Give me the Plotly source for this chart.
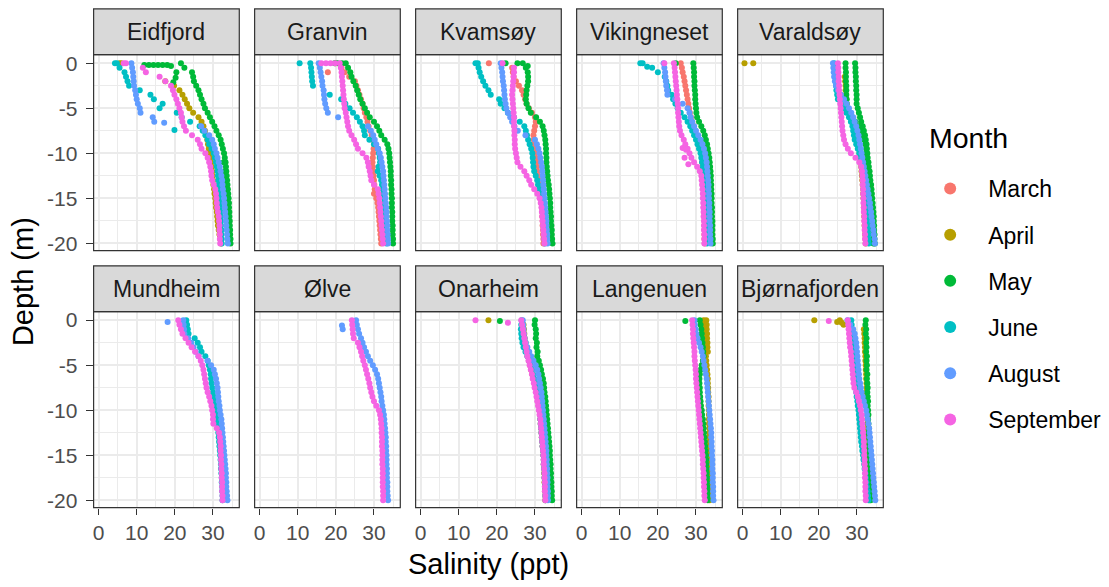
import plotly.graph_objects as go

# ---------------------------------------------------------------- categories
MONTHS = ["March", "April", "May", "June", "August", "September"]
MONTH_COLOURS = ["#F8766D", "#B79F00", "#00BA38", "#00BFC4", "#619CFF", "#F564E3"]
STATIONS = ["Eidfjord", "Granvin", "Kvamsøy", "Vikingneset", "Varaldsøy",
            "Mundheim", "Ølve", "Onarheim", "Langenuen", "Bjørnafjorden"]

X_TICKS = [0, 10, 20, 30]
X_MINOR = [5, 15, 25, 35]
Y_TICKS = [0, -5, -10, -15, -20]
Y_TICK_TEXT = ["0", "-5", "-10", "-15", "-20"]
Y_MINOR = [-2.5, -7.5, -12.5, -17.5]

# CTD sampling depths (m) shared by every cast
DEPTH = [0.0, -0.5, -1.0, -1.5, -2.0, -2.5, -3.0, -3.5, -4.0, -4.5,
         -5.0, -5.5, -6.0, -6.5, -7.0, -7.5, -8.0, -8.5, -9.0, -9.5,
         -10.0, -10.5, -11.0, -11.5, -12.0, -12.5, -13.0, -13.5, -14.0, -14.5,
         -15.0, -15.5, -16.0, -16.5, -17.0, -17.5, -18.0, -18.5, -19.0, -19.5,
         -20.0]

# ---------------------------------------------------------------- salinity casts (ppt at DEPTH)
EIDFJORD_APR = [5.5, None, None, None, 17.5, 19.8, 21.2, 22.0, 22.6, 23.2,
                23.8, 24.8, 26.2, 27.0, 27.5, 27.9, 28.2, 28.5, 28.7, 28.9,
                29.1, 29.3, 29.5, 29.7, 29.8, 29.9, 30.0, 30.1, 30.3, 30.4,
                30.6, 30.7, 30.8, 31.0, 31.1, 31.2, 31.3, 31.5, 31.7, 31.9,
                32.1]
EIDFJORD_MAY = [21.6, 22.5, 24.5, 24.8, 25.0, 25.6, 26.2, 26.6, 27.0, 27.5,
                27.9, 28.6, 29.2, 29.8, 30.4, 30.9, 31.5, 32.0, 32.3, 32.6,
                32.9, 33.1, 33.3, 33.4, 33.5, 33.6, 33.7, 33.8, 33.9, 34.0,
                34.1, 34.2, 34.2, 34.3, 34.3, 34.4, 34.4, 34.5, 34.5, 34.6,
                34.6]
EIDFJORD_JUN = [4.8, 5.5, 6.8, 7.2, 7.6, 8.0, 10.8, 13.6, 14.5, 16.8,
                16.0, 20.5, 21.8, 24.0, 26.5, 27.3, 28.0, 28.6, 29.0, 29.6,
                30.2, 30.5, 30.8, 31.0, 31.2, 31.3, 31.4, 31.5, 31.6, 31.7,
                31.8, 31.9, 31.9, 32.0, 32.0, 32.1, 32.1, 32.2, 32.2, 32.3,
                32.3]
EIDFJORD_AUG = [8.6, 8.8, 9.0, 9.1, 9.2, 9.3, 9.6, 9.8, 10.0, 10.3,
                10.8, 11.0, 14.2, 14.6, 26.9, 27.8, 29.0, 29.8, 30.2, 30.5,
                30.9, 31.2, 31.5, 31.8, 32.0, 32.2, 32.4, 32.5, 32.6, 32.8,
                32.9, 33.0, 33.1, 33.2, 33.3, 33.4, 33.5, 33.6, 33.7, 33.8,
                33.9]
EIDFJORD_SEP = [7.2, 11.6, 12.4, 16.0, 17.5, 19.0, 19.5, 19.9, 20.4, 20.8,
                21.2, 21.6, 21.8, 22.0, 22.4, 22.9, 24.5, 26.0, 26.6, 27.0,
                28.0, 28.6, 29.0, 29.3, 29.5, 29.6, 29.8, 30.2, 30.6, 30.8,
                30.9, 31.0, 31.1, 31.3, 31.5, 31.6, 31.7, 31.7, 31.8, 31.8,
                31.9]

GRANVIN_MAR = [20.0, 21.5, 22.3, 23.5, 25.0, 25.4, 25.8, 26.2, 26.6, 27.0,
               27.3, 27.6, 28.0, 28.3, 28.6, 29.0, 29.4, 29.8, 30.0, 29.9,
               29.8, 29.7, 29.6, 29.7, 29.8, 29.9, 30.0, 30.1, 30.2, 30.0,
               30.6, 30.9, 31.1, 31.2, 31.3, 31.4, 31.5, 31.6, 31.7, 31.8,
               31.9]
GRANVIN_MAY = [20.5, 23.2, 23.8, 24.1, 24.6, 25.2, 25.6, 26.0, 26.4, 27.0,
               27.6, 28.2, 28.9, 30.0, 30.8, 31.4, 31.9, 32.8, 33.5, 33.8,
               34.0, 34.1, 34.2, 34.3, 34.4, 34.4, 34.5, 34.5, 34.6, 34.6,
               34.7, 34.7, 34.7, 34.8, 34.8, 34.8, 34.9, 34.9, 34.9, 35.0,
               35.0]
GRANVIN_JUN = [13.3, 13.5, 13.6, 13.7, 13.8, 14.0, None, 18.4, 21.4, 22.5,
               23.6, 24.5, 25.5, 26.3, 27.0, 27.4, 27.6, 28.8, 30.0, 31.1,
               31.3, 31.5, 31.6, 31.2, 31.0, 31.5, 31.9, 32.1, 32.3, 32.5,
               32.6, 32.7, 32.8, 32.9, 33.0, 33.0, 33.1, 33.1, 33.2, 33.2,
               33.3]
GRANVIN_AUG = [15.5, 15.8, 16.0, 16.2, 16.4, 16.5, 16.8, 16.9, 17.0, 17.2,
               17.5, 17.9, 20.6, None, 28.4, 29.2, 29.8, 30.2, 30.6, 31.0,
               31.5, 31.8, 32.0, 32.2, 32.4, 32.5, 32.6, 32.7, 32.8, 32.9,
               33.0, 33.1, 33.2, 33.3, 33.3, 33.4, 33.5, 33.5, 33.6, 33.7,
               33.7]
GRANVIN_SEP = [21.0, 21.3, 21.5, 21.6, 21.7, 21.8, 21.9, 22.0, 22.1, 22.2,
               22.3, 22.6, 22.8, 23.0, 23.2, 23.5, 24.1, 24.8, 25.3, 25.8,
               27.0, 28.0, 28.4, 28.6, 28.9, 29.1, 29.3, 30.0, 31.0, 31.2,
               31.4, 31.5, 31.6, 31.7, 31.8, 31.9, 32.0, 32.1, 32.2, 32.3,
               32.4]

KVAMSOY_MAR = [17.9, 24.0, 24.2, 24.4, 25.0, 25.8, 26.6, 27.0, 27.4, 27.8,
               28.4, 29.2, 30.0, 30.2, 30.0, 29.8, 29.6, 29.7, 29.8, 29.9,
               30.0, 30.2, 30.4, 30.5, 30.6, 30.8, 31.0, 31.2, 31.4, 31.5,
               31.6, 31.7, 31.8, 31.9, 31.9, 32.0, 32.0, 32.1, 32.1, 32.2,
               32.2]
KVAMSOY_MAY = [22.3, 27.6, 28.1, 28.2, 28.2, 28.0, 27.8, 27.7, 27.6, 27.8,
               28.3, 28.9, 30.3, 31.3, 32.0, 32.3, 32.5, 32.7, 32.8, 32.9,
               32.9, 33.0, 33.0, 33.1, 33.2, 33.3, 33.4, 33.6, 33.7, 33.8,
               33.9, 34.0, 34.0, 34.1, 34.2, 34.2, 34.3, 34.4, 34.4, 34.5,
               34.6]
KVAMSOY_JUN = [15.0, 15.2, 15.5, 15.9, 16.4, 17.0, 17.8, 18.4, 20.6, 21.0,
               22.0, 22.9, 24.5, 26.0, 27.2, 27.6, 27.9, 28.2, 28.6, 29.0,
               29.3, 29.4, 29.5, 29.6, 29.8, 30.2, 30.6, 30.8, 31.1, 31.4,
               31.6, 31.8, 32.0, 32.1, 32.2, 32.3, 32.4, 32.4, 32.5, 32.5,
               32.6]
KVAMSOY_AUG = [21.0, 21.2, 21.4, 21.5, 21.6, 21.8, 21.9, 22.0, 22.1, 22.3,
               22.5, 22.9, 23.5, 24.0, 24.6, 25.5, 27.5, 30.0, 30.5, 30.9,
               31.2, 31.4, 31.6, 31.8, 31.9, 32.0, 32.1, 32.2, 32.3, 32.4,
               32.5, 32.6, 32.7, 32.8, 32.9, 33.0, 33.0, 33.1, 33.2, 33.2,
               33.3]
KVAMSOY_SEP = [21.5, 24.5, 24.5, 24.4, 24.3, 24.2, 24.1, 24.0, 24.1, 24.2,
               24.3, 24.4, 24.5, 24.5, 24.5, 24.6, 24.6, 24.7, 24.7, 24.8,
               25.0, 25.2, 25.4, 26.2, 27.2, 27.8, 28.5, 29.0, 29.8, 30.6,
               31.2, 31.5, 31.7, 31.8, 31.9, 32.0, 32.1, 32.2, 32.3, 32.4,
               32.5]

VIKINGNESET_MAR = [26.0, 26.3, 26.5, 26.8, 27.0, 27.2, 27.4, 27.6, 27.8, 28.0,
                   28.2, 28.4, 28.7, 29.0, 29.4, 29.8, 30.2, 30.6, 30.9, 31.2,
                   31.4, 31.5, 31.6, 31.7, 31.8, 31.8, 31.9, 31.9, 32.0, 32.0,
                   32.0, 32.1, 32.1, 32.1, 32.1, 32.2, 32.2, 32.2, 32.2, 32.2,
                   32.3]
VIKINGNESET_MAY = [29.3, 29.4, 29.5, 29.5, 29.6, 29.6, 29.7, 29.8, 29.8, 29.9,
                   30.0, 30.1, 30.3, 30.8, 31.4, 31.9, 32.3, 32.6, 32.9, 33.1,
                   33.3, 33.5, 33.6, 33.7, 33.8, 33.9, 33.9, 34.0, 34.0, 34.1,
                   34.1, 34.1, 34.2, 34.2, 34.2, 34.3, 34.3, 34.3, 34.3, 34.4,
                   34.4]
VIKINGNESET_JUN = [16.0, 18.5, 20.0, 21.8, 22.2, 22.5, 22.7, 23.6, 24.0, 24.6,
                   25.2, 26.0, 27.0, 27.8, 28.5, 29.0, 29.5, 30.0, 30.4, 30.8,
                   31.2, 31.4, 31.6, 31.8, 31.9, 32.0, 32.1, 32.2, 32.3, 32.3,
                   32.4, 32.5, 32.5, 32.6, 32.6, 32.7, 32.7, 32.8, 32.8, 32.9,
                   32.9]
VIKINGNESET_AUG = [21.5, 21.7, 21.9, 22.0, 22.1, 22.2, 22.4, 22.5, 24.5, 26.5,
                   27.8, 28.3, 28.6, 29.0, 29.5, 30.0, 30.6, 31.2, 31.7, 32.1,
                   32.4, 32.6, 32.8, 32.9, 33.0, 33.1, 33.2, 33.3, 33.3, 33.4,
                   33.4, 33.5, 33.5, 33.6, 33.6, 33.6, 33.7, 33.7, 33.7, 33.8,
                   33.8]
VIKINGNESET_SEP = [24.2, 24.4, 24.5, 24.6, 24.7, 24.8, 24.9, 25.0, 25.1, 25.2,
                   25.3, 25.3, 25.4, 25.5, 25.6, 25.8, 26.2, 26.8, 27.2, 27.8,
                   28.3, 28.8, 29.5, 30.3, 31.0, 31.4, 31.5, 31.6, 31.7, 31.8,
                   31.8, 31.9, 31.9, 32.0, 32.0, 32.1, 32.1, 32.1, 32.2, 32.2,
                   32.2]

VARALDSOY_APR = [0.5, None, None, 26.8, 26.9, 27.0, 27.0, 27.1, 27.2, 27.3,
                 27.5, 27.8, 28.2, 28.6, 29.0, 29.4, 29.7, 30.0, 30.3, 30.5,
                 30.7, 30.9, 31.0, 31.1, 31.2, 31.3, 31.4, 31.5, 31.6, 31.6,
                 31.7, 31.8, 31.8, 31.9, 31.9, 32.0, 32.0, 32.1, 32.1, 32.2,
                 32.3]
VARALDSOY_MAY = [29.5, 29.6, 29.6, 29.7, 29.7, 29.8, 29.8, 29.9, 29.9, 29.9,
                 30.2, 30.5, 30.8, 31.1, 31.5, 31.8, 32.1, 32.3, 32.5, 32.6,
                 32.7, 32.8, 33.0, 33.1, 33.3, 33.4, 33.5, 33.7, 33.8, 33.9,
                 34.0, 34.1, 34.2, 34.3, 34.4, 34.4, 34.5, 34.5, 34.6, 34.6,
                 34.7]
VARALDSOY_MAY_B = [27.0, 27.0, 27.1, 27.1, 27.1, 27.2, 27.2, 27.2, 27.3, 27.3,
                   27.3, 28.0, 28.8, 29.6, 30.3, 31.0, 31.5, 31.9, 32.2, 32.4,
                   32.5, 32.6, 32.7, 32.8, 32.9, 33.0, 33.1, 33.2, 33.3, 33.4,
                   33.5, 33.6, 33.7, 33.8, 33.9, 34.0, 34.0, 34.1, 34.2, 34.2,
                   34.3]
VARALDSOY_JUN = [24.0, 24.1, 24.2, 24.3, 24.4, 24.5, 24.6, 24.8, 25.0, 25.8,
                 26.5, 27.2, 27.9, 28.4, 28.8, 29.0, 29.2, 29.4, 29.8, 30.2,
                 30.6, 30.9, 31.2, 31.4, 31.6, 31.7, 31.8, 31.9, 32.0, 32.1,
                 32.2, 32.3, 32.4, 32.5, 32.6, 32.7, 32.8, 32.9, 33.0, 33.0,
                 33.1]
VARALDSOY_AUG = [23.7, 23.8, 23.9, 24.0, 24.2, 24.5, 25.0, 25.8, 26.6, 27.3,
                 27.9, 28.5, 29.0, 29.4, 29.8, 30.1, 30.4, 30.6, 30.8, 31.0,
                 31.2, 31.4, 31.6, 31.8, 32.0, 32.2, 32.4, 32.6, 32.8, 33.0,
                 33.2, 33.4, 33.5, 33.7, 33.8, 34.0, 34.1, 34.3, 34.4, 34.6,
                 34.7]
VARALDSOY_SEP = [25.0, 25.1, 25.1, 25.2, 25.2, 25.3, 25.3, 25.4, 25.5, 25.6,
                 25.7, 25.8, 25.9, 26.0, 26.1, 26.2, 26.4, 26.6, 27.0, 27.6,
                 28.4, 29.6, 30.6, 31.1, 31.3, 31.4, 31.5, 31.5, 31.6, 31.6,
                 31.7, 31.7, 31.8, 31.8, 31.9, 31.9, 32.0, 32.0, 32.1, 32.1,
                 32.2]

MUNDHEIM_JUN = [23.0, 23.2, 23.4, 23.6, 25.2, 26.0, 26.6, 27.0, 28.0, 28.6,
                28.9, 29.2, 29.4, 29.5, 29.6, 29.8, 30.0, 30.2, 30.4, 30.6,
                30.8, 31.0, 31.1, 31.2, 31.3, 31.4, 31.5, 31.6, 31.7, 31.8,
                31.9, 32.0, 32.1, 32.1, 32.2, 32.3, 32.3, 32.4, 32.4, 32.5,
                32.5]
MUNDHEIM_AUG = [22.2, 22.3, 22.4, 22.5, 23.5, 24.3, 24.9, 25.5, 26.2, 28.6,
                29.5, 30.2, 30.5, 30.8, 31.0, 31.2, 31.3, 31.4, 31.5, 31.7,
                31.8, 32.0, 32.2, 32.3, 32.4, 32.5, 32.6, 32.7, 32.8, 32.9,
                33.0, 33.1, 33.2, 33.3, 33.4, 33.4, 33.5, 33.5, 33.6, 33.7,
                33.8]
MUNDHEIM_SEP = [20.9, 21.2, 21.6, 22.0, 22.8, 23.6, 24.4, 25.3, 26.2, 26.8,
                27.2, 27.5, 27.7, 27.9, 28.1, 28.3, 28.6, 29.0, 29.3, 29.6,
                29.8, 30.0, 30.0, 30.1, 31.0, 31.6, 31.8, 31.9, 32.0, 32.0,
                32.1, 32.1, 32.2, 32.2, 32.3, 32.3, 32.4, 32.4, 32.4, 32.5,
                32.5]

OLVE_AUG = [25.3, 25.5, 25.8, 26.1, 26.6, 27.0, 27.4, 27.9, 28.4, 29.0,
            29.7, 30.3, 30.8, 31.1, 31.3, 31.5, 31.7, 31.9, 32.0, 32.2,
            32.4, 32.6, 32.7, 32.8, 32.9, 33.0, 33.1, 33.1, 33.2, 33.2,
            33.3, 33.3, 33.3, 33.4, 33.4, 33.4, 33.5, 33.5, 33.5, 33.6,
            33.7]
OLVE_SEP = [24.2, 24.3, 24.4, 24.5, 24.7, 25.8, 26.2, 26.6, 26.9, 27.2,
            27.6, 27.9, 28.2, 28.5, 28.8, 29.0, 29.3, 29.6, 30.0, 30.6,
            31.3, 31.6, 31.8, 31.9, 32.0, 32.0, 32.1, 32.1, 32.1, 32.2,
            32.2, 32.2, 32.2, 32.3, 32.3, 32.3, 32.3, 32.3, 32.4, 32.4,
            32.4]

ONARHEIM_APR = [17.8, 27.0, 27.1, 27.2, 27.3, 27.5, 27.7, 27.9, 28.1, 28.4,
                28.7, 29.0, 29.3, 29.6, 29.9, 30.2, 30.4, 30.6, 30.8, 31.0,
                31.2, 31.3, 31.4, 31.5, 31.6, 31.7, 31.8, 31.9, 32.0, 32.1,
                32.2, 32.3, 32.3, 32.4, 32.4, 32.5, 32.5, 32.6, 32.6, 32.7,
                32.7]
ONARHEIM_MAY = [30.0, 29.9, 30.2, 30.3, 30.2, 30.5, 30.4, 30.7, 30.6, 31.0,
                31.3, 31.6, 31.8, 32.1, 32.3, 32.4, 32.5, 32.7, 32.8, 32.9,
                33.0, 33.1, 33.2, 33.3, 33.4, 33.5, 33.6, 33.7, 33.8, 33.9,
                33.9, 34.0, 34.1, 34.1, 34.2, 34.2, 34.3, 34.3, 34.4, 34.4,
                34.5]
ONARHEIM_JUN = [26.5, 26.4, 26.3, 26.4, 26.5, 26.7, 27.0, 27.5, 28.0, 28.4,
                28.8, 29.2, 29.5, 29.8, 30.1, 30.4, 30.6, 30.8, 31.0, 31.1,
                31.2, 31.3, 31.4, 31.5, 31.6, 31.7, 31.8, 31.9, 32.0, 32.1,
                32.2, 32.3, 32.3, 32.4, 32.5, 32.5, 32.6, 32.6, 32.7, 32.7,
                32.8]
ONARHEIM_AUG = [26.8, 26.9, 27.0, 27.1, 27.3, 27.6, 28.0, 28.5, 29.0, 29.6,
                30.2, 30.6, 30.9, 31.1, 31.3, 31.5, 31.7, 31.8, 31.9, 32.0,
                32.1, 32.2, 32.3, 32.4, 32.5, 32.6, 32.7, 32.8, 32.9, 33.0,
                33.0, 33.1, 33.1, 33.2, 33.2, 33.3, 33.3, 33.3, 33.4, 33.4,
                33.4]
ONARHEIM_SEP = [26.4, 26.6, 26.8, 27.0, 27.2, 27.4, 27.6, 27.8, 28.0, 28.3,
                28.6, 28.9, 29.2, 29.4, 29.7, 29.9, 30.2, 30.4, 30.6, 30.8,
                31.0, 31.2, 31.4, 31.5, 31.6, 31.7, 31.8, 31.9, 32.0, 32.1,
                32.2, 32.3, 32.3, 32.4, 32.5, 32.5, 32.6, 32.6, 32.6, 32.7,
                32.7]

LANGENUEN_APR = [32.0, 32.1, 32.2, 32.2, 32.3, 32.3, 32.4, 32.5, 32.6, 32.7,
                 32.8, 32.9, 33.0, 33.1, 33.1, 33.2, 33.2, 33.3, 33.3, 33.3,
                 33.4, 33.4, 33.4, 33.4, 33.5, 33.5, 33.5, 33.5, 33.5, 33.5,
                 33.5, 33.6, 33.6, 33.6, 33.6, 33.6, 33.6, 33.6, 33.6, 33.6,
                 33.6]
LANGENUEN_MAY = [31.0, 31.2, 31.4, 31.5, 31.6, 31.7, 31.8, 31.9, 32.0, 31.8,
                 31.5, 31.2, 31.0, 30.9, 30.9, 31.0, 31.0, 31.1, 31.2, 31.3,
                 31.5, 31.6, 31.8, 31.9, 32.0, 32.1, 32.2, 32.3, 32.4, 32.5,
                 32.6, 32.7, 32.7, 32.8, 32.8, 32.9, 32.9, 33.0, 33.0, 33.1,
                 33.1]
LANGENUEN_AUG = [29.6, 29.7, 29.9, 30.1, 30.4, 30.8, 31.2, 31.5, 31.8, 32.0,
                 32.2, 32.4, 32.6, 32.8, 32.9, 33.0, 33.1, 33.2, 33.3, 33.4,
                 33.5, 33.6, 33.7, 33.8, 33.9, 34.0, 34.0, 34.1, 34.1, 34.2,
                 34.2, 34.3, 34.3, 34.3, 34.4, 34.4, 34.4, 34.5, 34.5, 34.5,
                 34.6]
LANGENUEN_SEP = [29.0, 29.1, 29.2, 29.2, 29.3, 29.4, 29.5, 29.6, 29.6, 29.7,
                 29.8, 29.9, 30.0, 30.0, 30.1, 30.2, 30.3, 30.4, 30.5, 30.6,
                 30.7, 30.8, 30.9, 31.0, 31.1, 31.2, 31.3, 31.4, 31.5, 31.6,
                 31.7, 31.8, 31.8, 31.9, 32.0, 32.0, 32.1, 32.1, 32.2, 32.2,
                 32.3]

BJORNAFJORDEN_APR = [25.5, 26.5, 31.8, 31.9, 32.0, 32.0, 32.1, 32.1, 32.2, 32.2,
                     32.3, 32.3, 32.4, 32.4, 32.5, 32.5, 32.5, 32.6, 32.6, 32.6,
                     32.7, 32.7, 32.7, 32.8, 32.8, 32.8, 32.9, 32.9, 32.9, 33.0,
                     33.0, 33.0, 33.1, 33.1, 33.1, 33.2, 33.2, 33.2, 33.2, 33.3,
                     33.3]
BJORNAFJORDEN_MAY = [32.3, 32.2, 32.4, 32.3, 32.5, 32.4, 32.5, 32.4, 32.6, 32.5,
                     32.6, 32.5, 32.7, 32.6, 32.7, 32.8, 32.7, 32.8, 32.9, 32.8,
                     32.9, 33.0, 32.9, 33.0, 33.1, 33.0, 33.1, 33.2, 33.1, 33.2,
                     33.3, 33.2, 33.3, 33.4, 33.3, 33.4, 33.5, 33.4, 33.5, 33.6,
                     33.6]
BJORNAFJORDEN_JUN = [28.5, 28.6, 28.8, 29.0, 29.2, 29.3, 29.4, 29.4, 29.5, 29.5,
                     29.6, 29.6, 29.7, 29.7, 29.8, 29.8, 29.8, 29.9, 30.1, 30.2,
                     30.4, 30.5, 30.6, 30.7, 30.8, 30.9, 31.0, 31.1, 31.3, 31.4,
                     31.6, 31.7, 31.9, 32.0, 32.2, 32.3, 32.5, 32.6, 32.8, 32.9,
                     33.0]
BJORNAFJORDEN_AUG = [27.5, 28.2, 29.0, 29.4, 29.6, 29.8, 29.9, 30.0, 30.1, 30.2,
                     30.3, 30.4, 30.5, 30.6, 30.8, 31.0, 31.2, 31.5, 31.8, 32.1,
                     32.4, 32.6, 32.8, 33.0, 33.2, 33.3, 33.4, 33.5, 33.6, 33.7,
                     33.8, 33.9, 34.0, 34.1, 34.2, 34.3, 34.4, 34.5, 34.6, 34.7,
                     34.8]
BJORNAFJORDEN_SEP = [27.6, 27.7, 27.8, 27.9, 28.0, 28.1, 28.2, 28.4, 28.5, 28.6,
                     28.7, 28.8, 28.9, 29.0, 29.1, 29.3, 29.8, 30.2, 30.5, 30.8,
                     31.0, 31.2, 31.3, 31.4, 31.5, 31.6, 31.7, 31.8, 31.8, 31.9,
                     31.9, 32.0, 32.0, 32.1, 32.1, 32.1, 32.2, 32.2, 32.2, 32.3,
                     32.3]

# ---------------------------------------------------------------- single readings off the regular depth grid
# (month, depth m, salinity ppt)
EIDFJORD_SINGLE = [("April", 0.0, 6.0), ("June", 0.0, 4.3), ("June", -7.4, 19.9),
                   ("August", -6.6, 17.2), ("September", 0.0, 6.6),
                   ("May", -0.2, 12.0), ("May", -0.2, 13.2), ("May", -0.2, 14.4),
                   ("May", -0.2, 15.6), ("May", -0.2, 16.8), ("May", -0.2, 18.0),
                   ("May", -0.3, 19.0), ("May", -1.0, 20.4), ("May", -1.6, 20.2),
                   ("May", -2.1, 19.6), ("May", -11.0, 32.8), ("May", -12.0, 33.0),
                   ("May", -13.0, 33.1), ("May", -14.0, 33.3), ("May", -15.0, 33.5),
                   ("May", -16.0, 33.6), ("May", -17.0, 33.8), ("May", -18.0, 33.9),
                   ("May", -19.0, 34.0), ("May", -19.8, 34.1)]
GRANVIN_SINGLE = [("March", -1.0, 17.9), ("May", 0.0, 19.7), ("May", 0.0, 21.6),
                  ("May", 0.0, 22.6), ("June", 0.0, 10.5), ("September", 0.0, 16.2),
                  ("September", 0.0, 17.4), ("September", 0.0, 18.6),
                  ("September", 0.0, 19.8)]
KVAMSOY_SINGLE = [("May", 0.0, 25.4), ("May", 0.0, 26.8), ("May", -0.3, 28.1),
                  ("June", 0.0, 14.4)]
VIKINGNESET_SINGLE = [("May", 0.0, 24.7), ("June", 0.0, 15.4), ("June", -0.4, 17.2),
                      ("September", 0.0, 21.7), ("September", -9.4, 26.5),
                      ("September", -9.6, 27.4), ("September", -10.5, 27.0),
                      ("September", -11.2, 28.0)]
VARALDSOY_SINGLE = [("April", 0.0, 2.8)]
MUNDHEIM_SINGLE = [("August", -0.2, 18.1)]
OLVE_SINGLE = [("August", -0.6, 21.6), ("August", -1.0, 21.8)]
ONARHEIM_SINGLE = [("May", -0.1, 20.8), ("September", 0.0, 14.4),
                   ("September", -0.3, 22.9)]
LANGENUEN_SINGLE = [("May", -0.1, 27.2), ("April", 0.0, 32.7), ("April", -0.5, 32.8),
                    ("April", -1.0, 32.8), ("April", -1.5, 32.9), ("April", -2.0, 32.9),
                    ("April", -2.5, 33.0), ("April", -3.0, 33.0), ("April", -3.5, 33.1)]
BJORNAFJORDEN_SINGLE = [("April", 0.0, 18.8), ("April", -0.2, 24.8),
                        ("April", -0.3, 26.0), ("September", -0.1, 22.6)]

# ---------------------------------------------------------------- lookup tables built from the lists above
CASTS = {
    "Eidfjord": [("April", EIDFJORD_APR), ("May", EIDFJORD_MAY), ("June", EIDFJORD_JUN),
                 ("August", EIDFJORD_AUG), ("September", EIDFJORD_SEP)],
    "Granvin": [("March", GRANVIN_MAR), ("May", GRANVIN_MAY), ("June", GRANVIN_JUN),
                ("August", GRANVIN_AUG), ("September", GRANVIN_SEP)],
    "Kvamsøy": [("March", KVAMSOY_MAR), ("May", KVAMSOY_MAY), ("June", KVAMSOY_JUN),
                ("August", KVAMSOY_AUG), ("September", KVAMSOY_SEP)],
    "Vikingneset": [("March", VIKINGNESET_MAR), ("May", VIKINGNESET_MAY),
                    ("June", VIKINGNESET_JUN), ("August", VIKINGNESET_AUG),
                    ("September", VIKINGNESET_SEP)],
    "Varaldsøy": [("April", VARALDSOY_APR), ("May", VARALDSOY_MAY), ("May", VARALDSOY_MAY_B),
                  ("June", VARALDSOY_JUN), ("August", VARALDSOY_AUG),
                  ("September", VARALDSOY_SEP)],
    "Mundheim": [("June", MUNDHEIM_JUN), ("August", MUNDHEIM_AUG),
                 ("September", MUNDHEIM_SEP)],
    "Ølve": [("August", OLVE_AUG), ("September", OLVE_SEP)],
    "Onarheim": [("April", ONARHEIM_APR), ("May", ONARHEIM_MAY), ("June", ONARHEIM_JUN),
                 ("August", ONARHEIM_AUG), ("September", ONARHEIM_SEP)],
    "Langenuen": [("April", LANGENUEN_APR), ("May", LANGENUEN_MAY),
                  ("August", LANGENUEN_AUG), ("September", LANGENUEN_SEP)],
    "Bjørnafjorden": [("April", BJORNAFJORDEN_APR), ("May", BJORNAFJORDEN_MAY),
                      ("June", BJORNAFJORDEN_JUN), ("August", BJORNAFJORDEN_AUG),
                      ("September", BJORNAFJORDEN_SEP)],
}
SINGLES = {
    "Eidfjord": EIDFJORD_SINGLE, "Granvin": GRANVIN_SINGLE, "Kvamsøy": KVAMSOY_SINGLE,
    "Vikingneset": VIKINGNESET_SINGLE, "Varaldsøy": VARALDSOY_SINGLE,
    "Mundheim": MUNDHEIM_SINGLE, "Ølve": OLVE_SINGLE, "Onarheim": ONARHEIM_SINGLE,
    "Langenuen": LANGENUEN_SINGLE, "Bjørnafjorden": BJORNAFJORDEN_SINGLE,
}
for casts in CASTS.values():
    for _, cast in casts:
        assert len(cast) == len(DEPTH)

# ---------------------------------------------------------------- page geometry (px)
W, H = 1109, 587
FONT = "Liberation Sans, Arial, sans-serif"
PANEL_LEFT0, PANEL_STEP, PANEL_W = 92.7, 161.15, 145.8
ROW_STRIP_TOP = [6.0, 266.0]
ROW_PLOT_TOP = [52.3, 312.3]
ROW_PLOT_BOTTOM = [250.7, 510.7]
X_RANGE = [-1.3, 36.9]
Y_RANGE = [-20.81, 0.95]
GRID = "#EBEBEB"
DARK = "#333333"


def px_x(v):
    return v / W


def px_y(v):
    return 1 - v / H


fig = go.Figure()

# one trace per month and station; the first of each month carries the legend entry
for m_idx, month in enumerate(MONTHS):
    first = True
    for s_idx, station in enumerate(STATIONS):
        xs, ys = [], []
        for cast_month, cast in CASTS[station]:
            if cast_month != month:
                continue
            for d, s in zip(DEPTH, cast):
                if s is not None:
                    xs.append(s)
                    ys.append(d)
        for rec_month, d, s in SINGLES[station]:
            if rec_month == month:
                xs.append(s)
                ys.append(d)
        if not xs:
            continue
        n = s_idx + 1
        fig.add_trace(go.Scatter(
            x=xs, y=ys, mode="markers",
            marker=dict(size=6, color=MONTH_COLOURS[m_idx]),
            name=month, legendgroup=month, showlegend=first,
            xaxis="x" if n == 1 else f"x{n}", yaxis="y" if n == 1 else f"y{n}",
            hovertemplate=f"{station}<br>%{{x}} ppt<br>%{{y}} m<extra>{month}</extra>",
        ))
        first = False

shapes, annotations = [], []
layout_axes = {}
for s_idx, station in enumerate(STATIONS):
    row, col = divmod(s_idx, 5)
    n = s_idx + 1
    left = PANEL_LEFT0 + PANEL_STEP * col
    right = left + PANEL_W
    top, bottom = ROW_PLOT_TOP[row], ROW_PLOT_BOTTOM[row]
    bottom_row = row == 1
    left_col = col == 0

    layout_axes["xaxis" if n == 1 else f"xaxis{n}"] = dict(
        domain=[px_x(left), px_x(right)], anchor="y" if n == 1 else f"y{n}",
        range=X_RANGE, tickmode="array", tickvals=X_TICKS,
        showticklabels=bottom_row, ticks="outside" if bottom_row else "",
        ticklen=6, tickwidth=1.3, tickcolor=DARK,
        tickfont=dict(family=FONT, size=21, color="#4D4D4D"),
        showgrid=True, gridcolor=GRID, gridwidth=2,
        minor=dict(tickmode="array", tickvals=X_MINOR, showgrid=True,
                   gridcolor=GRID, gridwidth=1, ticks=""),
        zeroline=False, showline=False, fixedrange=True,
    )
    layout_axes["yaxis" if n == 1 else f"yaxis{n}"] = dict(
        domain=[px_y(bottom), px_y(top)], anchor="x" if n == 1 else f"x{n}",
        range=Y_RANGE, tickmode="array", tickvals=Y_TICKS, ticktext=Y_TICK_TEXT,
        showticklabels=left_col, ticks="outside" if left_col else "",
        ticklen=7, tickwidth=1.3, tickcolor=DARK, ticklabelstandoff=4,
        tickfont=dict(family=FONT, size=21, color="#4D4D4D"),
        showgrid=True, gridcolor=GRID, gridwidth=2,
        minor=dict(tickmode="array", tickvals=Y_MINOR, showgrid=True,
                   gridcolor=GRID, gridwidth=1, ticks=""),
        zeroline=False, showline=False, fixedrange=True,
    )

    # panel border
    shapes.append(dict(type="rect", xref="paper", yref="paper",
                       x0=px_x(left), x1=px_x(right), y0=px_y(bottom), y1=px_y(top),
                       line=dict(color=DARK, width=1.2), fillcolor="rgba(0,0,0,0)",
                       layer="above"))
    # facet strip
    strip_top = ROW_STRIP_TOP[row]
    shapes.append(dict(type="rect", xref="paper", yref="paper",
                       x0=px_x(left), x1=px_x(right), y0=px_y(top), y1=px_y(strip_top),
                       line=dict(color=DARK, width=1.2), fillcolor="#D9D9D9",
                       layer="above"))
    annotations.append(dict(text=station, xref="paper", yref="paper",
                            x=px_x((left + right) / 2), y=px_y((top + strip_top) / 2),
                            xanchor="center", yanchor="middle", showarrow=False,
                            font=dict(family=FONT, size=23, color="#1A1A1A")))

# axis titles and legend heading
annotations.append(dict(text="Salinity (ppt)", xref="paper", yref="paper",
                        x=px_x(488), y=px_y(568), xanchor="center", yanchor="middle",
                        showarrow=False, font=dict(family=FONT, size=29, color="black")))
annotations.append(dict(text="Depth (m)", xref="paper", yref="paper", textangle=-90,
                        x=px_x(22), y=px_y(281.5), xanchor="center", yanchor="middle",
                        showarrow=False, font=dict(family=FONT, size=29, color="black")))
annotations.append(dict(text="Month", xref="paper", yref="paper",
                        x=px_x(927), y=px_y(137), xanchor="left", yanchor="middle",
                        showarrow=False, font=dict(family=FONT, size=28.5, color="black")))

fig.update_layout(
    width=W, height=H,
    margin=dict(l=0, r=0, t=0, b=0),
    paper_bgcolor="white", plot_bgcolor="white",
    font=dict(family=FONT, color="black"),
    shapes=shapes, annotations=annotations,
    showlegend=True,
    legend=dict(
        x=px_x(912), xanchor="left", y=px_y(166), yanchor="top",
        font=dict(family=FONT, size=23, color="black"),
        itemsizing="constant", itemwidth=66, tracegroupgap=13.3,
        bgcolor="rgba(0,0,0,0)", borderwidth=0,
    ),
    **layout_axes,
)

fig.write_html("out.html")
